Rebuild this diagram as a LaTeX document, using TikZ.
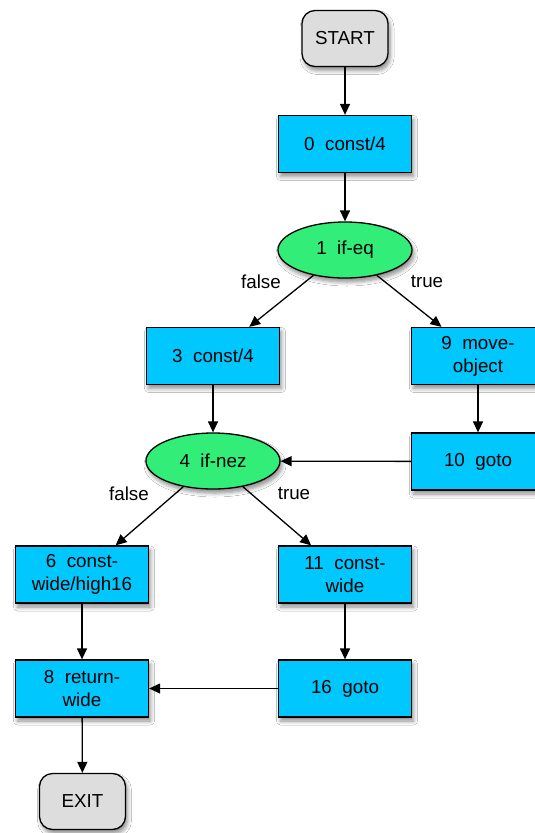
\documentclass[tikz,border=0pt]{standalone}
\usepackage{fontspec}
\setmainfont{Liberation Sans}
\usetikzlibrary{arrows.meta,shapes.geometric,shadows.blur}
\definecolor{boxblue}{RGB}{0,200,255}
\definecolor{ovgreen}{RGB}{50,238,120}
\definecolor{termgray}{RGB}{221,221,221}
\tikzset{
  shad/.style={blur shadow={shadow xshift=2pt,shadow yshift=-4pt,shadow blur steps=6,shadow opacity=45,shadow blur radius=4pt}},
  txt/.style={font=\fontsize{18.8}{23}\selectfont},
  stepbox/.style={draw=black,line width=1.3pt,fill=boxblue,minimum width=133pt,minimum height=57pt,inner sep=0pt,align=center,txt,shad},
  term/.style={draw=black,line width=1.3pt,fill=termgray,rounded corners=13pt,minimum width=86pt,minimum height=56pt,inner sep=0pt,txt,shad},
  cond/.style={ellipse,draw=black,line width=1.3pt,fill=ovgreen,minimum width=134pt,minimum height=56pt,inner sep=0pt,txt,shad},
  arr/.style={line width=1.3pt,-{Triangle[length=11pt,width=10pt]}},
  lbl/.style={txt}
}
\begin{document}
\begin{tikzpicture}[x=1pt,y=-1pt]
\useasboundingbox (0,0) rectangle (535,833);
\clip (0,0) rectangle (535,833);
\fill[white] (0,0) rectangle (535,833);
\node[term] (start) at (345,38.5) {START};
\node[stepbox] (n0) at (345,144) {0\ \ const/4};
\node[cond] (n1) at (345,250) {1\ \ if-eq};
\node[stepbox] (n3) at (213,356) {3\ \ const/4};
\node[stepbox] (n9) at (478,356) {9\ \ move-\\object};
\node[cond] (n4) at (213,461) {4\ \ if-nez};
\node[stepbox] (n10) at (478,461.5) {10\ \ goto};
\node[stepbox] (n6) at (82,574.5) {6\ \ const-\\wide/high16};
\node[stepbox] (n11) at (345,574.5) {11\ \ const-\\wide};
\node[stepbox] (n8) at (82,688.5) {8\ \ return-\\wide};
\node[stepbox] (n16) at (345,688.5) {16\ \ goto};
\node[term] (exit) at (82.5,801.5) {EXIT};
\node[lbl] (lf1) at (261,282) {false};
\node[lbl] (lt1) at (427,282) {true};
\node[lbl] (lf4) at (129,494) {false};
\node[lbl] (lt4) at (294,494) {true};
\draw[arr] (start) -- (n0);
\draw[arr] (n0) -- (n1);
\draw[arr] (n1) -- (n3);
\draw[arr] (n1) -- (n9);
\draw[arr] (n3) -- (n4);
\draw[arr] (n9) -- (n10);
\draw[arr] (n10) -- (n4);
\draw[arr] (n4) -- (n6);
\draw[arr] (n4) -- (n11);
\draw[arr] (n6) -- (n8);
\draw[arr] (n11) -- (n16);
\draw[arr] (n16) -- (n8);
\draw[arr] (n8) -- (exit);
\end{tikzpicture}
\end{document}
